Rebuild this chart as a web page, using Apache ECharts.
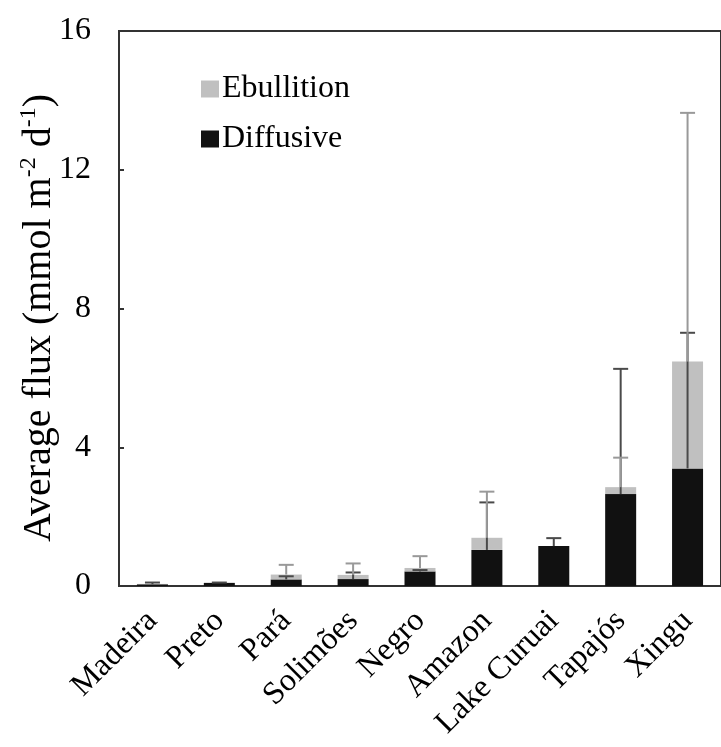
<!DOCTYPE html>
<html>
<head>
<meta charset="utf-8">
<script src="https://cdn.jsdelivr.net/npm/echarts@6/dist/echarts.min.js"></script>
<style>
  html, body { margin: 0; padding: 0; background: #fff; }
  #chart { width: 721px; height: 747px; }
</style>
</head>
<body>
<div id="chart"></div>
<script>
// sites and fluxes (mmol m-2 d-1)
var sites = ['Madeira', 'Preto', 'Pará', 'Solimões', 'Negro', 'Amazon', 'Lake Curuai', 'Tapajós', 'Xingu'];
var diffusive = [0.05, 0.09, 0.19, 0.20, 0.42, 1.04, 1.15, 2.65, 3.39];
var ebullition = [0.01, 0, 0.14, 0.12, 0.10, 0.35, 0, 0.20, 3.08];
// upper ends of the error bars
var diffusiveErrTop = [0.10, 0.10, 0.28, 0.39, 0.46, 2.41, 1.38, 6.26, 7.30];
var totalErrTop = [null, null, 0.61, 0.65, 0.86, 2.72, null, 3.70, 13.64];
var yTicks = [0, 4, 8, 12, 16];

var serif = '"Liberation Serif", "Times New Roman", serif';

//error bar data: [category index, bar top, error top]
function errData(tops, totals) {
    var out = [];
    for (var i = 0; i < tops.length; i++) {
        if (tops[i] == null) continue;
        out.push([i, totals[i], tops[i]]);
    }
    return out;
}
var totals = diffusive.map(function(d, i) { return d + ebullition[i]; });

function errRender(color) {
    return function(params, api) {
        var base = api.coord([api.value(0), api.value(1)]);
        var top = api.coord([api.value(0), api.value(2)]);
        var half = 7.5;
        var st = { stroke: color, lineWidth: 2 };
        return {
            type: 'group',
            children: [
                { type: 'line', shape: { x1: base[0], y1: base[1], x2: top[0], y2: top[1] }, style: st },
                { type: 'line', shape: { x1: top[0] - half, y1: top[1], x2: top[0] + half, y2: top[1] }, style: st }
            ]
        };
    };
}

var myChart = echarts.init(document.getElementById('chart'));
var option = {
    animation: false,
    backgroundColor: '#fff',
    grid: {
        left: 119, top: 31, right: -3, bottom: 161,
        show: true, borderColor: '#333', borderWidth: 2
    },
    legend: {
        orient: 'vertical',
        left: 196, top: 68,
        itemWidth: 18, itemHeight: 17, itemGap: 18,
        icon: 'rect',
        data: ['Ebullition', 'Diffusive'],
        textStyle: { fontFamily: serif, fontSize: 32, color: '#000', padding: [0, 0, 0, -2] }
    },
    xAxis: {
        type: 'category',
        data: sites,
        axisLine: { lineStyle: { color: '#333', width: 2 } },
        axisTick: { show: false },
        axisLabel: {
            rotate: 45, interval: 0, margin: 30,
            fontFamily: serif, fontSize: 32, color: '#000'
        }
    },
    yAxis: {
        type: 'value',
        min: yTicks[0], max: yTicks[yTicks.length - 1], interval: 4,
        axisLine: { show: true, lineStyle: { color: '#333', width: 2 } },
        axisTick: { show: true, inside: true, length: 5, lineStyle: { color: '#333', width: 2 } },
        splitLine: { show: false },
        axisLabel: { margin: 28, fontFamily: serif, fontSize: 32, color: '#000' }
    },
    graphic: [{
        type: 'text',
        x: 39, y: 318,
        rotation: Math.PI / 2,
        style: {
            text: '{a|Average flux (mmol m}{s|-2}{a| d}{s|-1}{a|)}',
            align: 'center', verticalAlign: 'middle',
            rich: {
                a: { fontFamily: serif, fontSize: 40, color: '#000', lineHeight: 44 },
                s: { fontFamily: serif, fontSize: 24, color: '#000', verticalAlign: 'top', lineHeight: 24 }
            }
        }
    }],
    series: [{
        name: 'Diffusive',
        type: 'bar',
        stack: 'flux',
        barWidth: 31,
        itemStyle: { color: '#111' },
        data: diffusive
    }, {
        name: 'Ebullition',
        type: 'bar',
        stack: 'flux',
        barWidth: 31,
        itemStyle: { color: '#c0c0c0' },
        data: ebullition
    }, {
        name: 'diffErr',
        type: 'custom',
        z: 5,
        renderItem: errRender('#4a4a4a'),
        data: errData(diffusiveErrTop, diffusive)
    }, {
        name: 'totalErr',
        type: 'custom',
        z: 6,
        renderItem: errRender('#999'),
        data: errData(totalErrTop, totals)
    }]
};
myChart.setOption(option);
</script>
</body>
</html>
